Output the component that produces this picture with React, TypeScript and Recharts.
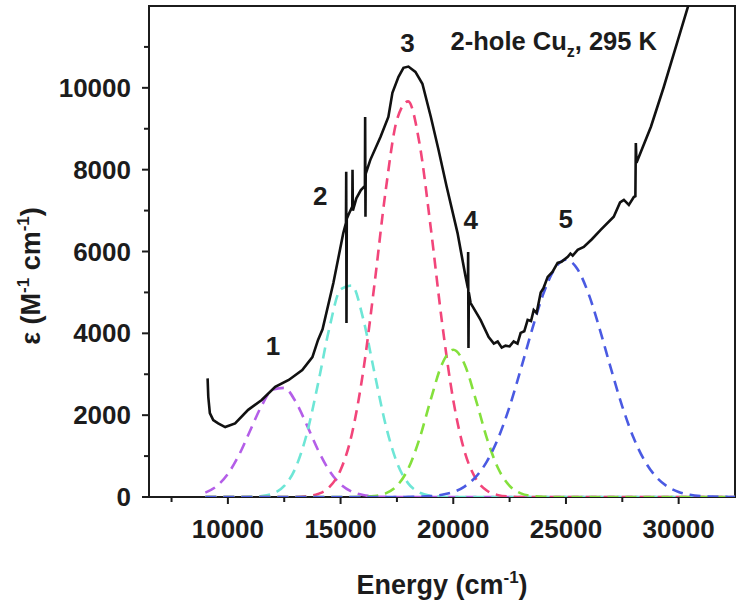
import { LineChart, Line, XAxis, YAxis, ReferenceArea, ReferenceDot } from 'recharts'

const FONT = '"Liberation Sans", Arial, sans-serif'
const INK = '#1c1c1c'

// measured spectrum (black trace)
const specEnergy = [
  9100, 9130, 9200, 9350, 9570, 9880, 10320, 10900, 11500, 12100, 12700, 13300,
  13750, 14000, 14200, 14680, 15120, 15240, 15250, 15262, 15275, 15350, 15520, 15530,
  15545, 15700, 15900, 16080, 16090, 16105, 16115, 16320, 16770, 17120, 17300, 17570,
  17790, 18010, 18320, 18630, 19000, 19340, 19700, 20190, 20540, 20650, 20660, 20675,
  20690, 20770, 21210, 21570, 21800, 21970, 22150, 22320, 22500, 22680, 22850, 22990,
  23150, 23300, 23450, 23570, 23700, 23880, 24000, 24190, 24400, 24630, 24800, 25080,
  25200, 25300, 25520, 25790, 26150, 26540, 27120, 27400, 27570, 27790, 28010, 28080,
  28100, 28130, 28770, 29340, 29970, 30410, 30550,
]
const specValue = [
  2900, 2450, 2050, 1880, 1800, 1710, 1800, 2130, 2370, 2690, 2860, 3100,
  3420, 3840, 4100, 5230, 6450, 6700, 7950, 4250, 6800, 6900, 7100, 8000,
  7000, 7300, 7500, 7600, 9290, 6850, 7900, 8240, 8800, 9290, 9880, 10270,
  10490, 10520, 10390, 10100, 9300, 8500, 7600, 6450, 5400, 5100, 5990, 3640,
  5000, 4740, 4330, 3910, 3750, 3800, 3650, 3700, 3680, 3800, 3750, 4010,
  4050, 4330, 4300, 4570, 4500, 5000, 5100, 5380, 5500, 5720, 5750, 5870,
  5950, 5900, 6040, 6110, 6300, 6530, 6850, 7200, 7260, 7140, 7330, 7350,
  8650, 8170, 9050, 10020, 11170, 11980, 12300,
]

// fitted bands (dashed)
const fitEnergy = [
  9000, 9500, 10000, 10500, 11000, 11500, 12000, 12500,
  13000, 13500, 14000, 14500, 15000, 15500, 16000, 16500,
  17000, 17500, 18000, 18500, 19000, 19500, 20000, 20500,
  21000, 21500, 22000, 22500, 23000, 23500, 24000, 24500,
  25000, 25500, 26000, 26500, 27000, 27500, 28000, 28500,
  29000, 29500, 30000, 30500, 31000, 31500, 32000, 32500,
]
const band1 = [
  108, 265, 565, 1035, 1638, 2234, 2629, 2668,
  2336, 1763, 1148, 645, 312, 130, 47, 15,
  4, 0, 0, 0, 0, 0, 0, 0,
  0, 0, 0, 0, 0, 0, 0, 0,
  0, 0, 0, 0, 0, 0, 0, 0,
  0, 0, 0, 0, 0, 0, 0, 0,
]
const band2 = [
  0, 0, 0, 0, 5, 22, 86, 271,
  710, 1541, 2771, 4121, 5074, 5171, 4362, 3047,
  1761, 842, 333, 109, 30, 7, 0, 0,
  0, 0, 0, 0, 0, 0, 0, 0,
  0, 0, 0, 0, 0, 0, 0, 0,
  0, 0, 0, 0, 0, 0, 0, 0,
]
const band3 = [
  0, 0, 0, 0, 0, 0, 0, 0,
  0, 20, 75, 240, 658, 1535, 3056, 5180,
  7486, 9216, 9669, 8646, 6585, 4275, 2367, 1115,
  448, 153, 45, 11, 0, 0, 0, 0,
  0, 0, 0, 0, 0, 0, 0, 0,
  0, 0, 0, 0, 0, 0, 0, 0,
]
const band4 = [
  0, 0, 0, 0, 0, 0, 0, 0,
  0, 0, 0, 0, 0, 0, 5, 23,
  87, 272, 690, 1420, 2382, 3246, 3600, 3246,
  2382, 1420, 690, 272, 87, 23, 5, 0,
  0, 0, 0, 0, 0, 0, 0, 0,
  0, 0, 0, 0, 0, 0, 0, 0,
]
const band5 = [
  0, 0, 0, 0, 0, 0, 0, 0,
  0, 0, 0, 0, 0, 0, 0, 0,
  0, 0, 3, 9, 22, 55, 122, 255,
  491, 876, 1446, 2211, 3129, 4098, 4970, 5580,
  5800, 5580, 4970, 4098, 3129, 2211, 1446, 876,
  491, 255, 122, 55, 22, 9, 3, 1,
]

const xTicks = [7500, 10000, 12500, 15000, 17500, 20000, 22500, 25000, 27500, 30000]
const yTicks = [0, 1000, 2000, 3000, 4000, 5000, 6000, 7000, 8000, 9000, 10000, 11000]

// peak numbers: [label, energy, epsilon]
const peakLabels: [string, number, number][] = [
  ['1', 12000, 3470],
  ['2', 14100, 7140],
  ['3', 17970, 10880],
  ['4', 20770, 6550],
  ['5', 24990, 6580],
]

const bands = [
  { values: band1, color: '#b45ee8' },
  { values: band2, color: '#6ee6d6' },
  { values: band3, color: '#f2457a' },
  { values: band4, color: '#84e03c' },
  { values: band5, color: '#4a5ae2' },
]

const spectrum = specEnergy.map((e, i) => ({ e, v: specValue[i] }))

const XTick = (props: any) => {
  const { x, y, payload } = props
  const major = payload.value % 5000 === 0
  return (
    <g>
      <line x1={x} x2={x} y1={y} y2={y + (major ? 7 : 5)} stroke={INK} strokeWidth={2} />
      {major && (
        <text x={x} y={y + 41} textAnchor="middle" fontFamily={FONT} fontWeight="bold" fontSize={26} fill={INK}>
          {payload.value}
        </text>
      )}
    </g>
  )
}

const YTick = (props: any) => {
  const { x, y, payload } = props
  const major = payload.value % 2000 === 0
  return (
    <g>
      <line x1={x - (major ? 7 : 5)} x2={x} y1={y} y2={y} stroke={INK} strokeWidth={2} />
      {major && (
        <text x={x - 18} y={y + 9} textAnchor="end" fontFamily={FONT} fontWeight="bold" fontSize={26} fill={INK}>
          {payload.value}
        </text>
      )}
    </g>
  )
}

const XTitle = (props: any) => {
  const vb = props.viewBox
  return (
    <text x={vb.x + vb.width / 2} y={594} textAnchor="middle" fontFamily={FONT} fontWeight="bold" fontSize={27} fill={INK}>
      Energy (cm<tspan dy={-11} fontSize={17}>-1</tspan>
      <tspan dy={11}>)</tspan>
    </text>
  )
}

const YTitle = () => (
  <text
    x={40}
    y={276}
    transform="rotate(-90 40 276)"
    textAnchor="middle"
    fontFamily={FONT}
    fontWeight="bold"
    fontSize={27}
    fill={INK}
  >
    ε (M<tspan dy={-11} fontSize={17}>-1</tspan>
    <tspan dy={11}> cm</tspan>
    <tspan dy={-11} fontSize={17}>-1</tspan>
    <tspan dy={11}>)</tspan>
  </text>
)

export default function App() {
  return (
    <div style={{ position: 'absolute', left: 0, top: 0, background: '#fff' }}>
      <LineChart width={742} height={605} margin={{ top: 6, right: 7, bottom: 0, left: 0 }}>
        <XAxis
          dataKey="e"
          type="number"
          domain={[6500, 32500]}
          ticks={xTicks}
          interval={0}
          height={108}
          axisLine={false}
          tickLine={false}
          tickSize={0}
          tickMargin={0}
          tick={<XTick />}
          label={XTitle}
          allowDuplicatedCategory={false}
        />
        <YAxis
          type="number"
          domain={[0, 12000]}
          ticks={yTicks}
          interval={0}
          width={149}
          axisLine={false}
          tickLine={false}
          tickSize={0}
          tickMargin={0}
          tick={<YTick />}
          label={YTitle}
          allowDataOverflow
        />
        {bands.map((b, i) => (
          <Line
            key={i}
            data={fitEnergy.map((e, j) => ({ e, v: b.values[j] }))}
            dataKey="v"
            type="monotone"
            stroke={b.color}
            strokeWidth={2.6}
            strokeDasharray="11 7"
            dot={false}
            isAnimationActive={false}
          />
        ))}
        <Line
          data={spectrum}
          dataKey="v"
          type="linear"
          stroke="#111"
          strokeWidth={2.6}
          dot={false}
          isAnimationActive={false}
        />
        {peakLabels.map(([t, e, v]) => (
          <ReferenceDot
            key={t}
            x={e}
            y={v}
            r={0}
            shape={(p: any) => (
              <text x={p.cx} y={p.cy} textAnchor="middle" fontFamily={FONT} fontWeight="bold" fontSize={26} fill={INK}>
                {t}
              </text>
            )}
          />
        ))}
        <ReferenceDot
          x={19880}
          y={10930}
          r={0}
          shape={(p: any) => (
            <text x={p.cx} y={p.cy} fontFamily={FONT} fontWeight="bold" fontSize={25.5} fill={INK}>
              2-hole Cu<tspan dy={7} fontSize={16}>z</tspan>
              <tspan dy={-7}>, 295 K</tspan>
            </text>
          )}
        />
        <ReferenceArea x1={6500} x2={32500} y1={0} y2={12000} fill="none" stroke={INK} strokeWidth={2} />
      </LineChart>
    </div>
  )
}
